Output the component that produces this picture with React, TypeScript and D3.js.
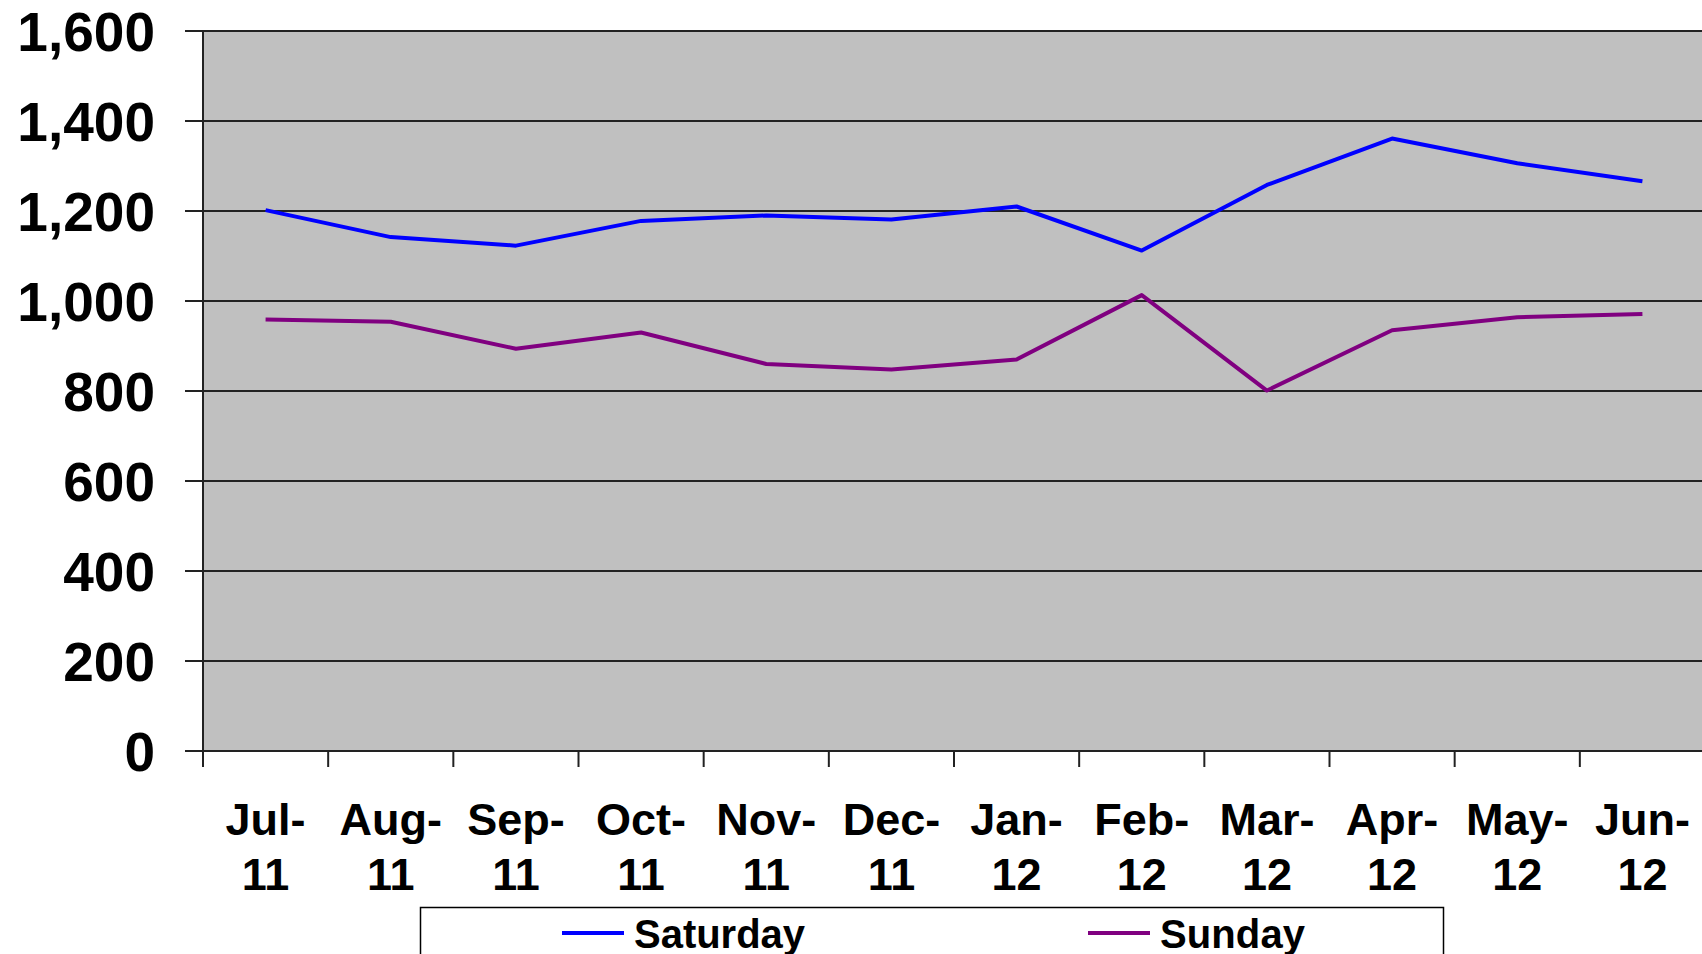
import React, { useEffect, useRef } from "react";
import * as d3 from "d3";

const months = ["Jul-", "Aug-", "Sep-", "Oct-", "Nov-", "Dec-", "Jan-", "Feb-", "Mar-", "Apr-", "May-", "Jun-"];
const years = ["11", "11", "11", "11", "11", "11", "12", "12", "12", "12", "12", "12"];
const saturday = [1202, 1142, 1123, 1178, 1190, 1181, 1210, 1112, 1258, 1361, 1306, 1266];
const sunday = [959, 954, 894, 930, 860, 848, 870, 1013, 801, 935, 964, 971];
const yTicks = [0, 200, 400, 600, 800, 1000, 1200, 1400, 1600];

const W = 1702;
const H = 954;
const margin = { top: 31, left: 203, bottom: 751 };
const plotRight = 1705;

export default function App() {
  const ref = useRef<SVGSVGElement>(null);

  useEffect(() => {
    const svg = d3.select(ref.current);
    svg.selectAll("*").remove();

    const keys = months.map((m, i) => m + years[i] + i);
    const x = d3.scaleBand().domain(keys).range([margin.left, plotRight]);
    const y = d3.scaleLinear().domain([0, 1600]).range([margin.bottom, margin.top]);
    const font = "'Liberation Sans', Arial, sans-serif";

    // plot background
    svg.append("rect")
      .attr("x", margin.left).attr("y", margin.top)
      .attr("width", plotRight - margin.left).attr("height", margin.bottom - margin.top)
      .attr("fill", "#c0c0c0");

    // gridlines + y ticks
    svg.append("g")
      .selectAll("line")
      .data(yTicks)
      .join("line")
      .attr("x1", 185).attr("x2", plotRight)
      .attr("y1", d => y(d)).attr("y2", d => y(d))
      .attr("stroke", "#222").attr("stroke-width", 2);

    svg.append("g")
      .selectAll("text")
      .data(yTicks)
      .join("text")
      .attr("x", 155)
      .attr("y", d => y(d) + 20)
      .attr("text-anchor", "end")
      .attr("font-family", font).attr("font-weight", "bold").attr("font-size", 55)
      .text(d => d3.format(",")(d));

    // y axis line
    svg.append("line")
      .attr("x1", margin.left).attr("x2", margin.left)
      .attr("y1", margin.top).attr("y2", margin.bottom)
      .attr("stroke", "#222").attr("stroke-width", 2);

    // x ticks at band boundaries
    const bounds = keys.map(k => x(k) as number).concat([plotRight]);
    svg.append("g")
      .selectAll("line")
      .data(bounds)
      .join("line")
      .attr("x1", d => d).attr("x2", d => d)
      .attr("y1", margin.bottom).attr("y2", margin.bottom + 16)
      .attr("stroke", "#222").attr("stroke-width", 2);

    // x labels
    const xl = svg.append("g")
      .attr("font-family", font).attr("font-weight", "bold").attr("font-size", 45)
      .attr("text-anchor", "middle");
    keys.forEach((k, i) => {
      const cx = (x(k) as number) + x.bandwidth() / 2;
      xl.append("text").attr("x", cx).attr("y", 835).text(months[i]);
      xl.append("text").attr("x", cx).attr("y", 890).text(years[i]);
    });

    // lines
    const line = d3.line<number>()
      .x((_, i) => (x(keys[i]) as number) + x.bandwidth() / 2)
      .y(d => y(d));

    svg.append("path").datum(saturday)
      .attr("d", line).attr("fill", "none")
      .attr("stroke", "#0000ff").attr("stroke-width", 4).attr("stroke-linejoin", "round");
    svg.append("path").datum(sunday)
      .attr("d", line).attr("fill", "none")
      .attr("stroke", "#800080").attr("stroke-width", 4).attr("stroke-linejoin", "round");

    // legend
    const lg = svg.append("g");
    lg.append("rect")
      .attr("x", 420.5).attr("y", 907.5).attr("width", 1023).attr("height", 60)
      .attr("fill", "#fff").attr("stroke", "#000").attr("stroke-width", 1.5);
    const items = [
      { name: "Saturday", color: "#0000ff", x: 562 },
      { name: "Sunday", color: "#800080", x: 1088 },
    ];
    items.forEach(it => {
      lg.append("line")
        .attr("x1", it.x).attr("x2", it.x + 62)
        .attr("y1", 933).attr("y2", 933)
        .attr("stroke", it.color).attr("stroke-width", 4);
      lg.append("text")
        .attr("x", it.x + 72).attr("y", 948)
        .attr("font-family", font).attr("font-weight", "bold").attr("font-size", 40)
        .attr("textLength", it.name === "Saturday" ? 171 : 145)
        .text(it.name);
    });
  }, []);

  return (
    <svg
      ref={ref}
      width={W}
      height={H}
      style={{ position: "absolute", left: 0, top: 0, background: "#fff" }}
    />
  );
}
